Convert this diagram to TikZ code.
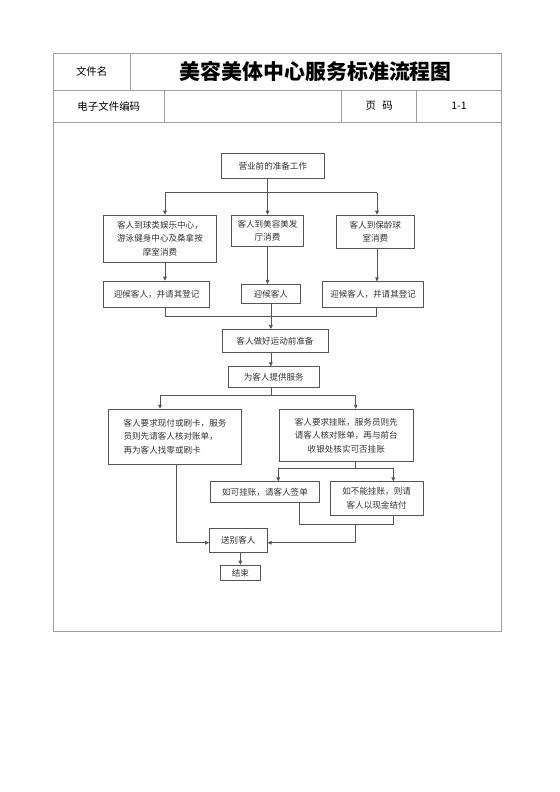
\documentclass[tikz,border=0pt]{standalone}
\usepackage{fontspec}
\newfontfamily\cjk{Noto Sans CJK SC}
\usetikzlibrary{arrows.meta}
\definecolor{tblgray}{HTML}{A0A0A0}
\definecolor{flowgray}{HTML}{555555}
\definecolor{txtgray}{HTML}{333333}
\begin{document}
\begin{tikzpicture}[x=1bp,y=-1bp,
  tbl/.style={draw=tblgray, line width=1bp},
  cell/.style={inner sep=0, font=\cjk\fontsize{10.5}{12}\selectfont, text=black},
  box/.style={draw=flowgray, line width=0.7bp, inner sep=0, align=center,
    font=\cjk\fontsize{8.6}{13.5}\selectfont, text=txtgray},
  ln/.style={draw=flowgray, line width=0.7bp},
  arr/.style={ln, -{Triangle[length=4bp,width=3.6bp]}}]
\useasboundingbox (0,0) rectangle (560,792);
\fill[white] (0,0) rectangle (560,792);
% header table
\draw[tbl] (53.3,53.3) rectangle (501.7,631.7);
\draw[tbl] (53.3,90) -- (501.7,90);
\draw[tbl] (53.3,122.3) -- (501.7,122.3);
\draw[tbl] (130,53.3) -- (130,90);
\draw[tbl] (164.3,90) -- (164.3,122.3);
\draw[tbl] (341.7,90) -- (341.7,122.3);
\draw[tbl] (416.7,90) -- (416.7,122.3);
\node[cell] (fname) at (91.7,71.7) {文件名};
\node[cell, font=\cjk\bfseries\fontsize{21}{24}\selectfont] (title) at (315.8,71.7) {美容美体中心服务标准流程图};
\node[cell] (ecode) at (108.8,106.2) {电子文件编码};
\node[cell] (page) at (379.2,106.2) {页\hspace{0.6em}码};
\node[cell] (pnum) at (459,106.2) {1-1};
% flow boxes
\node[box, minimum width=104.3, minimum height=25] (start) at (272.85,165.8) {营业前的准备工作};
\node[box, minimum width=113.4, minimum height=47.3] (b1) at (160,238.65) {客人到球类娱乐中心，\\游泳健身中心及桑拿按\\摩室消费};
\node[box, minimum width=71.6, minimum height=31.7] (b2) at (267.5,230.85) {客人到美容美发\\厅消费};
\node[box, minimum width=77.3, minimum height=33.3] (b3) at (375.35,231.65) {客人到保龄球\\室消费};
\node[box, minimum width=106.7, minimum height=26.7] (c1) at (156.65,294.35) {迎候客人，并请其登记};
\node[box, minimum width=58.3, minimum height=19.4] (c2) at (270.85,294) {迎候客人};
\node[box, minimum width=101.7, minimum height=26] (c3) at (373.15,294.7) {迎候客人，并请其登记};
\node[box, minimum width=106.6, minimum height=23] (d) at (275,340.8) {客人做好运动前准备};
\node[box, minimum width=91, minimum height=20.6] (e) at (273.8,377) {为客人提供服务};
\node[box, align=left, minimum width=133.4, minimum height=55] (fL) at (175,436.5) {客人要求现付或刷卡，服务\\员则先请客人核对账单，\\再为客人找零或刷卡};
\node[box, minimum width=134, minimum height=52.7] (fR) at (346.3,435.35) {客人要求挂账，服务员则先\\请客人核对账单，再与前台\\收银处核实可否挂账};
\node[box, minimum width=110, minimum height=21] (gA) at (265,492.2) {如可挂账，请客人签单};
\node[box, minimum width=93.3, minimum height=33.3] (gB) at (376.65,498.35) {如不能挂账，则请\\客人以现金结付};
\node[box, minimum width=58, minimum height=24] (h) at (238.3,540.3) {送别客人};
\node[box, minimum width=39.3, minimum height=15.7] (end) at (240.35,572.85) {结束};
% connectors
\coordinate (j1) at (165,192.7);
\coordinate (j3) at (377,192.7);
\draw[arr] (start.south -| b2.north) -- (b2.north);
\draw[ln] (j1) -- (j3);
\draw[arr] (j1) -- (j1 |- b1.north);
\draw[arr] (j3) -- (j3 |- b3.north);
\draw[arr] (b1.south -| j1) -- (c1.north -| j1);
\draw[arr] (b2.south) -- (b2.south |- c2.north);
\draw[arr] (b3.south -| j3) -- (c3.north -| j3);
\coordinate (m1) at (165,316);
\coordinate (m3) at (376,316);
\draw[ln] (c1.south -| m1) -- (m1) -- (m3) -- (c3.south -| m3);
\draw[arr] (c2.south) -- (c2.south |- d.north);
\draw[arr] (d.south -| c2.south) -- (e.north -| c2.south);
\coordinate (s0) at (270.85,395);
\coordinate (s1) at (160,395);
\coordinate (s2) at (355.7,395);
\draw[ln] (e.south -| s0) -- (s0);
\draw[ln] (s1) -- (s2);
\draw[arr] (s1) -- (s1 |- fL.north);
\draw[arr] (s2) -- (s2 |- fR.north);
\coordinate (t0) at (355.3,468.3);
\coordinate (t1) at (278.3,468.3);
\coordinate (t2) at (393.3,468.3);
\draw[ln] (fR.south -| t0) -- (t0);
\draw[ln] (t1) -- (t2);
\draw[arr] (t1) -- (t1 |- gA.north);
\draw[arr] (t2) -- (t2 |- gB.north);
\coordinate (u1) at (299.3,524.3);
\coordinate (u2) at (393.3,524.3);
\coordinate (u0) at (355,524.3);
\coordinate (v1) at (355,542.7);
\draw[ln] (gA.south -| u1) -- (u1) -- (u2) -- (gB.south -| u2);
\draw[arr] (u0) -- (v1) -- (v1 -| h.east);
\coordinate (w) at (176.7,542.7);
\draw[arr] (fL.south -| w) -- (w) -- (w -| h.west);
\draw[arr] (h.south -| end.north) -- (end.north);
\end{tikzpicture}
\end{document}
